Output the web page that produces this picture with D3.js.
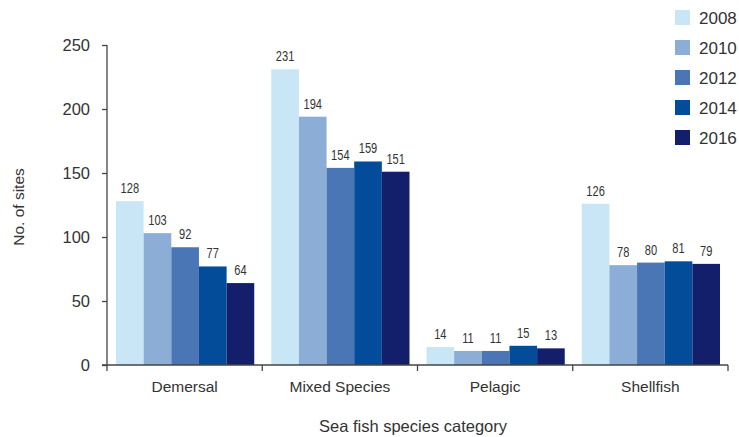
<!DOCTYPE html>
<html>
<head>
<meta charset="utf-8">
<script src="https://cdn.jsdelivr.net/npm/d3@7/dist/d3.min.js"></script>
<style>
  html, body { margin: 0; padding: 0; background: #fff; }
  svg { display: block; }
  .tick-label { font-family: "Liberation Sans", Arial, sans-serif; font-size: 15.5px; fill: #333; }
  .axis-num { font-family: "Liberation Sans", Arial, sans-serif; font-size: 16.5px; fill: #333; }
  .legend-label { font-family: "Liberation Sans", Arial, sans-serif; font-size: 17px; fill: #333; }
  .value-label { font-family: "Liberation Sans", Arial, sans-serif; font-size: 15px; fill: #333; }
</style>
</head>
<body>
<svg id="chart" width="739" height="437"></svg>
<script>
const categories = ["Demersal", "Mixed Species", "Pelagic", "Shellfish"];
const years = ["2008", "2010", "2012", "2014", "2016"];
const values2008 = [128, 231, 14, 126];
const values2010 = [103, 194, 11, 78];
const values2012 = [92, 154, 11, 80];
const values2014 = [77, 159, 15, 81];
const values2016 = [64, 151, 13, 79];
const yTicks = [0, 50, 100, 150, 200, 250];
const colors = ["#c9e6f7", "#8badd6", "#4a76b5", "#034c9a", "#131f6b"];

const seriesValues = [values2008, values2010, values2012, values2014, values2016];

const svg = d3.select("#chart");
const margin = { left: 107, right: 11, top: 45, bottom: 72 };
const width = 739 - margin.left - margin.right;
const height = 437 - margin.top - margin.bottom;

const g = svg.append("g").attr("transform", `translate(${margin.left},${margin.top})`);

const x0 = d3.scaleBand().domain(categories).range([0, width]).paddingInner(0).paddingOuter(0);
const x1 = d3.scaleBand().domain(years).range([9, x0.bandwidth() - 8]).padding(0);
const y = d3.scaleLinear().domain([0, 250]).range([height, 0]);
const color = d3.scaleOrdinal().domain(years).range(colors);

// Bars, grouped by category
const groups = g.selectAll(".cat")
  .data(categories)
  .join("g")
  .attr("class", "cat")
  .attr("transform", d => `translate(${x0(d)},0)`);

const cells = (c, ci) => years.map((yr, si) => ({ yr, v: seriesValues[si][ci] }));

groups.selectAll("rect")
  .data(cells)
  .join("rect")
  .attr("x", d => x1(d.yr))
  .attr("y", d => y(d.v))
  .attr("width", x1.bandwidth())
  .attr("height", d => height - y(d.v))
  .attr("fill", d => color(d.yr));

// Value labels in a narrow face: horizontally compressed text
groups.selectAll("text")
  .data(cells)
  .join("text")
  .attr("class", "value-label")
  .attr("transform", d => `translate(${x1(d.yr) + x1.bandwidth() / 2},${y(d.v) - 8}) scale(0.74,1)`)
  .attr("text-anchor", "middle")
  .text(d => d.v);

// Y axis
const yAxis = g.append("g")
  .call(d3.axisLeft(y).tickValues(yTicks).tickSize(5).tickPadding(12));
yAxis.attr("font-size", null).attr("font-family", null);
yAxis.select(".domain").attr("stroke", "#444").attr("stroke-width", 1.3).attr("d", `M0,${height}V0`);
yAxis.selectAll(".tick line").attr("stroke", "#444").attr("stroke-width", 1.3);
yAxis.selectAll(".tick text").attr("class", "axis-num").attr("fill", null);

// X axis: baseline with ticks at category boundaries
const xAxis = g.append("g").attr("transform", `translate(0,${height})`);
xAxis.append("line")
  .attr("x1", -5).attr("x2", width)
  .attr("stroke", "#444").attr("stroke-width", 1.3);
const boundaries = categories.map(c => x0(c)).concat([width]);
xAxis.selectAll(".bound")
  .data(boundaries)
  .join("line")
  .attr("class", "bound")
  .attr("x1", d => d).attr("x2", d => d)
  .attr("y1", 0).attr("y2", 6)
  .attr("stroke", "#444").attr("stroke-width", 1.3);
xAxis.selectAll(".cat-label")
  .data(categories)
  .join("text")
  .attr("class", "tick-label")
  .attr("x", d => x0(d) + x0.bandwidth() / 2)
  .attr("y", 27)
  .attr("text-anchor", "middle")
  .text(d => d);

// Axis titles
svg.append("text")
  .attr("class", "tick-label")
  .attr("transform", `translate(24,${margin.top + height / 2 + 2}) rotate(-90)`)
  .attr("text-anchor", "middle")
  .text("No. of sites");

svg.append("text")
  .attr("class", "tick-label")
  .style("font-size", "16.5px")
  .attr("x", 413)
  .attr("y", 432)
  .attr("text-anchor", "middle")
  .text("Sea fish species category");

// Legend
const legend = svg.append("g").attr("transform", "translate(675,10)");
const items = legend.selectAll("g")
  .data(years)
  .join("g")
  .attr("transform", (d, i) => `translate(0,${i * 30})`);
items.append("rect")
  .attr("width", 15).attr("height", 15)
  .attr("fill", d => color(d));
items.append("text")
  .attr("class", "legend-label")
  .attr("x", 24)
  .attr("y", 14)
  .text(d => d);
</script>
</body>
</html>
